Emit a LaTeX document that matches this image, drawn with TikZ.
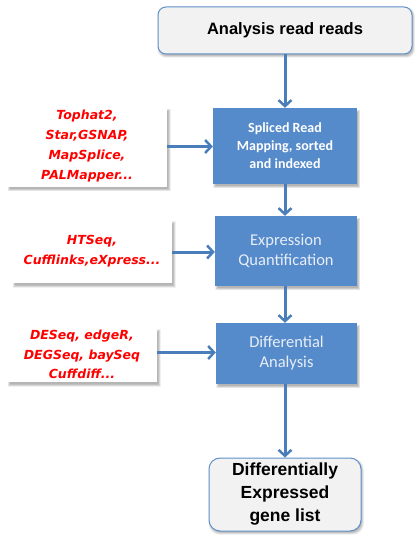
\documentclass[tikz,border=0pt]{standalone}
\usepackage{fontspec}
\setmainfont{Carlito}
\newfontfamily\hdrfont{Liberation Sans}
\newfontfamily\toolfont{DejaVu Sans}
\usetikzlibrary{arrows.meta,calc,backgrounds}
\definecolor{boxblue}{RGB}{85,138,203}
\definecolor{linkblue}{RGB}{74,126,187}
\definecolor{edgeblue}{RGB}{96,143,200}
\definecolor{paleg}{RGB}{242,242,242}
\definecolor{boxtext}{RGB}{232,238,248}
\newcommand{\softshadow}[3]{%
  \foreach \k in {0,1,2,3,4,5}{%
    \fill[black,opacity=0.055,rounded corners=#3]
      ($(#1.north west)+(#2*0.6+\k*0.5-1.2,#2+\k*0.5-1.2)$) rectangle
      ($(#1.south east)+(#2*0.6-\k*0.5+1.2,#2-\k*0.5+1.2)$);}}
\begin{document}
\begin{tikzpicture}[x=1pt,y=-1pt,
  endbox/.style={draw=edgeblue,line width=1pt,fill=paleg,rounded corners=8pt,
    inner sep=0pt,align=center,text=black},
  stepbox/.style={fill=boxblue,inner sep=0pt,align=center,text=boxtext},
  toolbox/.style={fill=white,inner sep=0pt,align=center,text=red,
    font=\toolfont\bfseries\itshape\fontsize{12.5}{20}\selectfont},
  link/.style={draw=linkblue,line width=3pt,-{Straight Barb[length=6pt,width=13pt,line width=2.5pt]}}
]
\useasboundingbox (0,0) rectangle (419,540);
\node[endbox,minimum width=254pt,minimum height=47pt,font=\hdrfont\bfseries\fontsize{16.5}{18}\selectfont] (top) at (285,30.5) {Analysis read reads};
\node[stepbox,minimum width=144pt,minimum height=76pt,text=white,font=\bfseries\fontsize{14}{18}\selectfont] (map) at (285,146) {Spliced Read\\Mapping, sorted\\and indexed};
\node[stepbox,minimum width=142pt,minimum height=70pt,font=\fontsize{16.5}{20}\selectfont] (quant) at (286,251) {Expression\\Quantification};
\node[stepbox,minimum width=141pt,minimum height=61pt,font=\fontsize{16.5}{20}\selectfont] (diff) at (286.5,353.5) {Differential\\Analysis};
\node[endbox,minimum width=152pt,minimum height=73pt,rounded corners=11pt,font=\hdrfont\bfseries\fontsize{17.5}{23}\selectfont] (genes) at (285,494.5) {Differentially\\Expressed\\gene list};
\node[toolbox,minimum width=160pt,minimum height=80pt] (t1) at (87,146.5) {Tophat2,\\Star,GSNAP,\\MapSplice,\\PALMapper...};
\node[toolbox,minimum width=160pt,minimum height=64pt] (t2) at (92,251) {HTSeq,\\Cufflinks,eXpress...};
\node[toolbox,minimum width=150pt,minimum height=55pt,font=\toolfont\bfseries\itshape\fontsize{12.5}{19.5}\selectfont] (t3) at (82,354.5) {DESeq, edgeR,\\DEGSeq, baySeq\\Cuffdiff...};
\begin{scope}[on background layer]
  \softshadow{top}{2}{8pt}
  \softshadow{genes}{2}{11pt}
  \softshadow{map}{3}{0pt}
  \softshadow{quant}{3}{0pt}
  \softshadow{diff}{3}{0pt}
  \softshadow{t1}{3.5}{0pt}
  \softshadow{t2}{3.5}{0pt}
  \softshadow{t3}{3.5}{0pt}
\end{scope}
\draw[link] (top.south -| map.north) -- (map.north);
\draw[link] (map.south) -- (map.south |- quant.north);
\draw[link] (map.south |- quant.south) -- (map.south |- diff.north);
\draw[link] (map.south |- diff.south) -- (map.south |- genes.north);
\draw[link] (t1.east) -- (t1.east -| map.west);
\draw[link] ($(t2.east)+(0,1)$) -- ($(t2.east -| quant.west)+(0,1)$);
\draw[link] ($(t3.east)+(0,-2)$) -- ($(t3.east -| diff.west)+(0,-2)$);
\end{tikzpicture}
\end{document}
